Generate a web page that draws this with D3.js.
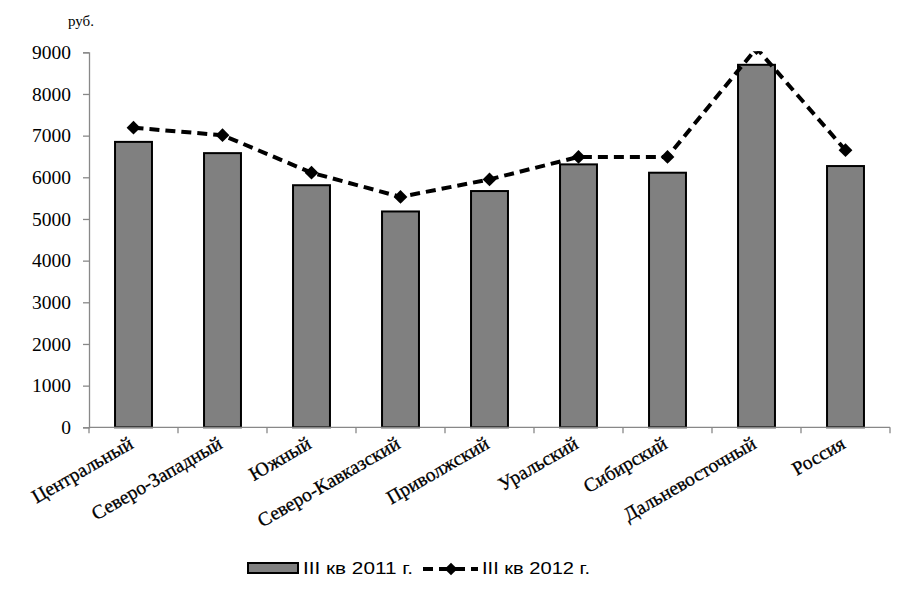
<!DOCTYPE html>
<html><head><meta charset="utf-8">
<script src="https://cdn.jsdelivr.net/npm/d3@7"></script>
<style>body{margin:0;background:#fff}svg{display:block}</style>
</head><body>
<svg id="c" width="910" height="589"></svg>
<script>
const categories = ["Центральный","Северо-Западный","Южный","Северо-Кавказский","Приволжский","Уральский","Сибирский","Дальневосточный","Россия"];
const values2011 = [6850,6580,5810,5180,5670,6310,6110,8700,6270];
const values2012 = [7190,7010,6110,5530,5950,6490,6490,9100,6650];
const yTicks = [0,1000,2000,3000,4000,5000,6000,7000,8000,9000];
const seriesNames = ["III кв 2011 г.","III кв 2012 г."];
const unitLabel = "руб.";

(function () {
const svg = d3.select("#c");
const pL = 89, pR = 890, pT = 52.3, pB = 427.3;
const x = d3.scaleBand().domain(categories).range([pL, pR]).padding(0);
const y = d3.scaleLinear().domain([0, 9000]).range([pB, pT]);
const serif = "'Liberation Serif','Times New Roman',serif";
const sans = "'Liberation Sans',Arial,sans-serif";

svg.append("defs").append("clipPath").attr("id","plot")
  .append("rect").attr("x", pL).attr("y", pT - 1).attr("width", pR - pL + 10).attr("height", pB - pT + 2);

// y axis
const ya = svg.append("g").attr("transform", `translate(${pL},0)`)
  .call(d3.axisLeft(y).tickValues(yTicks).tickSize(6).tickPadding(12).tickFormat(d3.format("d")));
ya.select(".domain").attr("stroke", "#888").attr("stroke-width", 1.3);
ya.selectAll(".tick line").attr("stroke", "#888").attr("stroke-width", 1.3);
ya.selectAll(".tick text").attr("font-family", serif).attr("font-size", 19.5).attr("fill", "#000");

// unit label
svg.append("text").attr("x", 68).attr("y", 26).attr("font-family", serif).attr("font-size", 15).text(unitLabel);

// bars
const bw = x.bandwidth() * 0.415;
svg.append("g").selectAll("rect").data(categories).join("rect")
  .attr("x", (d) => x(d) + x.bandwidth() / 2 - bw / 2)
  .attr("y", (d, i) => y(values2011[i]))
  .attr("width", bw)
  .attr("height", (d, i) => y(0) - y(values2011[i]))
  .attr("fill", "#808080").attr("stroke", "#000").attr("stroke-width", 2);

// x axis
const xa = svg.append("g");
xa.append("line").attr("x1", pL).attr("x2", pR).attr("y1", pB).attr("y2", pB)
  .attr("stroke", "#888").attr("stroke-width", 1.3);
const bounds = categories.map(c => x(c)).concat([x.range()[1]]);
xa.selectAll("line.t").data(bounds).join("line").attr("class","t")
  .attr("x1", d => d).attr("x2", d => d).attr("y1", pB).attr("y2", pB + 6)
  .attr("stroke", "#888").attr("stroke-width", 1.3);
xa.selectAll("text").data(categories).join("text")
  .attr("transform", d => `translate(${x(d) + x.bandwidth() / 2 + 1},${pB + 20}) rotate(-30)`)
  .attr("text-anchor", "end").attr("font-family", serif).attr("font-size", 19.5).attr("fill", "#000")
  .attr("stroke", "#000").attr("stroke-width", 0.3)
  .text(d => d);

// line series
const lineGen = d3.line().x((d, i) => x(categories[i]) + x.bandwidth() / 2).y(d => y(d));
const lg = svg.append("g").attr("clip-path", "url(#plot)");
lg.append("path").datum(values2012).attr("d", lineGen)
  .attr("fill", "none").attr("stroke", "#000").attr("stroke-width", 4).attr("stroke-dasharray", "10,6");
lg.selectAll("path.m").data(values2012).join("path").attr("class","m")
  .attr("d", d3.symbol().type(d3.symbolSquare).size(95))
  .attr("transform", (d, i) => `translate(${x(categories[i]) + x.bandwidth() / 2},${y(d)}) rotate(45)`)
  .attr("fill", "#000");

// legend
const leg = svg.append("g");
leg.append("rect").attr("x", 248).attr("y", 563).attr("width", 50).attr("height", 10)
  .attr("fill", "#808080").attr("stroke", "#000").attr("stroke-width", 2);
leg.append("text").attr("x", 303).attr("y", 573.5).attr("font-family", sans).attr("font-size", 17)
  .attr("textLength", 110).attr("lengthAdjust", "spacingAndGlyphs").text(seriesNames[0]);
leg.append("line").attr("x1", 423).attr("x2", 478).attr("y1", 569).attr("y2", 569)
  .attr("stroke", "#000").attr("stroke-width", 4).attr("stroke-dasharray", "10,6");
leg.append("path").attr("d", d3.symbol().type(d3.symbolSquare).size(80))
  .attr("transform", "translate(451,569) rotate(45)").attr("fill", "#000");
leg.append("text").attr("x", 482).attr("y", 573.5).attr("font-family", sans).attr("font-size", 17)
  .attr("textLength", 108).attr("lengthAdjust", "spacingAndGlyphs").text(seriesNames[1]);
})();
</script>
</body></html>
